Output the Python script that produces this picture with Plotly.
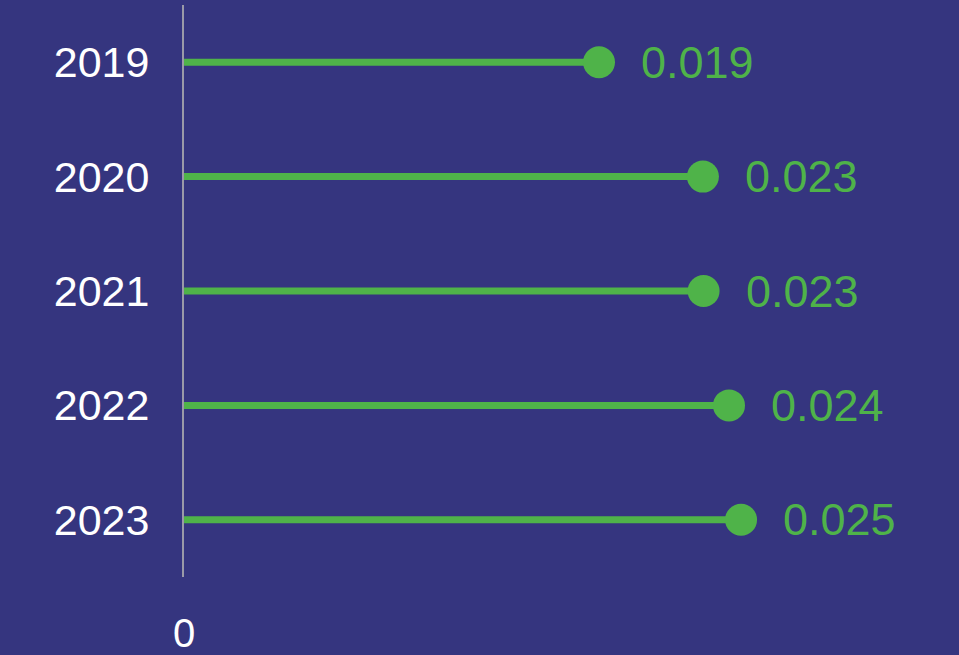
import plotly.graph_objects as go

years = ["2019", "2020", "2021", "2022", "2023"]
values = [0.01861, 0.02327, 0.02330, 0.02444, 0.02498]
value_labels = ["0.019", "0.023", "0.023", "0.024", "0.025"]
x_ticks = [0]
x_tick_labels = ["0"]

BG = "#35357f"
GREEN = "#4fb349"
FONT = "Liberation Sans, Arial, sans-serif"

pos = list(range(len(years)))

fig = go.Figure()

line_x, line_y = [], []
for p, v in zip(pos, values):
    line_x += [0, v, None]
    line_y += [p, p, None]

fig.add_trace(go.Scatter(
    x=line_x, y=line_y, mode="lines",
    line=dict(color=GREEN, width=7),
    hoverinfo="skip", showlegend=False,
))
fig.add_trace(go.Scatter(
    x=values, y=pos, mode="markers",
    marker=dict(color=GREEN, size=32, line=dict(width=0)),
    showlegend=False,
))

for p, v, lab in zip(pos, values, value_labels):
    fig.add_annotation(
        x=v, y=p, text=lab, showarrow=False,
        xanchor="left", yanchor="middle", xshift=40,
        font=dict(color=GREEN, size=45, family=FONT),
    )

fig.update_layout(
    width=959, height=655,
    paper_bgcolor=BG, plot_bgcolor=BG,
    margin=dict(l=184, r=0, t=5, b=72),
    font=dict(family=FONT, color="white", size=38),
    showlegend=False,
)
fig.update_xaxes(
    range=[0, 775 / 22300], showgrid=False, zeroline=False,
    tickvals=x_ticks, ticktext=x_tick_labels,
    tickfont=dict(size=40, color="white"),
    ticklabelstandoff=29, showline=False,
)
fig.update_yaxes(
    range=[len(years) - 0.5, -0.5],
    tickvals=pos, ticktext=years,
    showgrid=False, zeroline=False, showline=True,
    linecolor="#9a9aa8", linewidth=2,
    tickfont=dict(size=43, color="white"),
    ticklabelstandoff=24,
)

fig.write_html(
    "out.html",
    config={"displayModeBar": False},
    post_script="document.body.style.margin='0';document.body.style.background='" + BG + "';",
)
